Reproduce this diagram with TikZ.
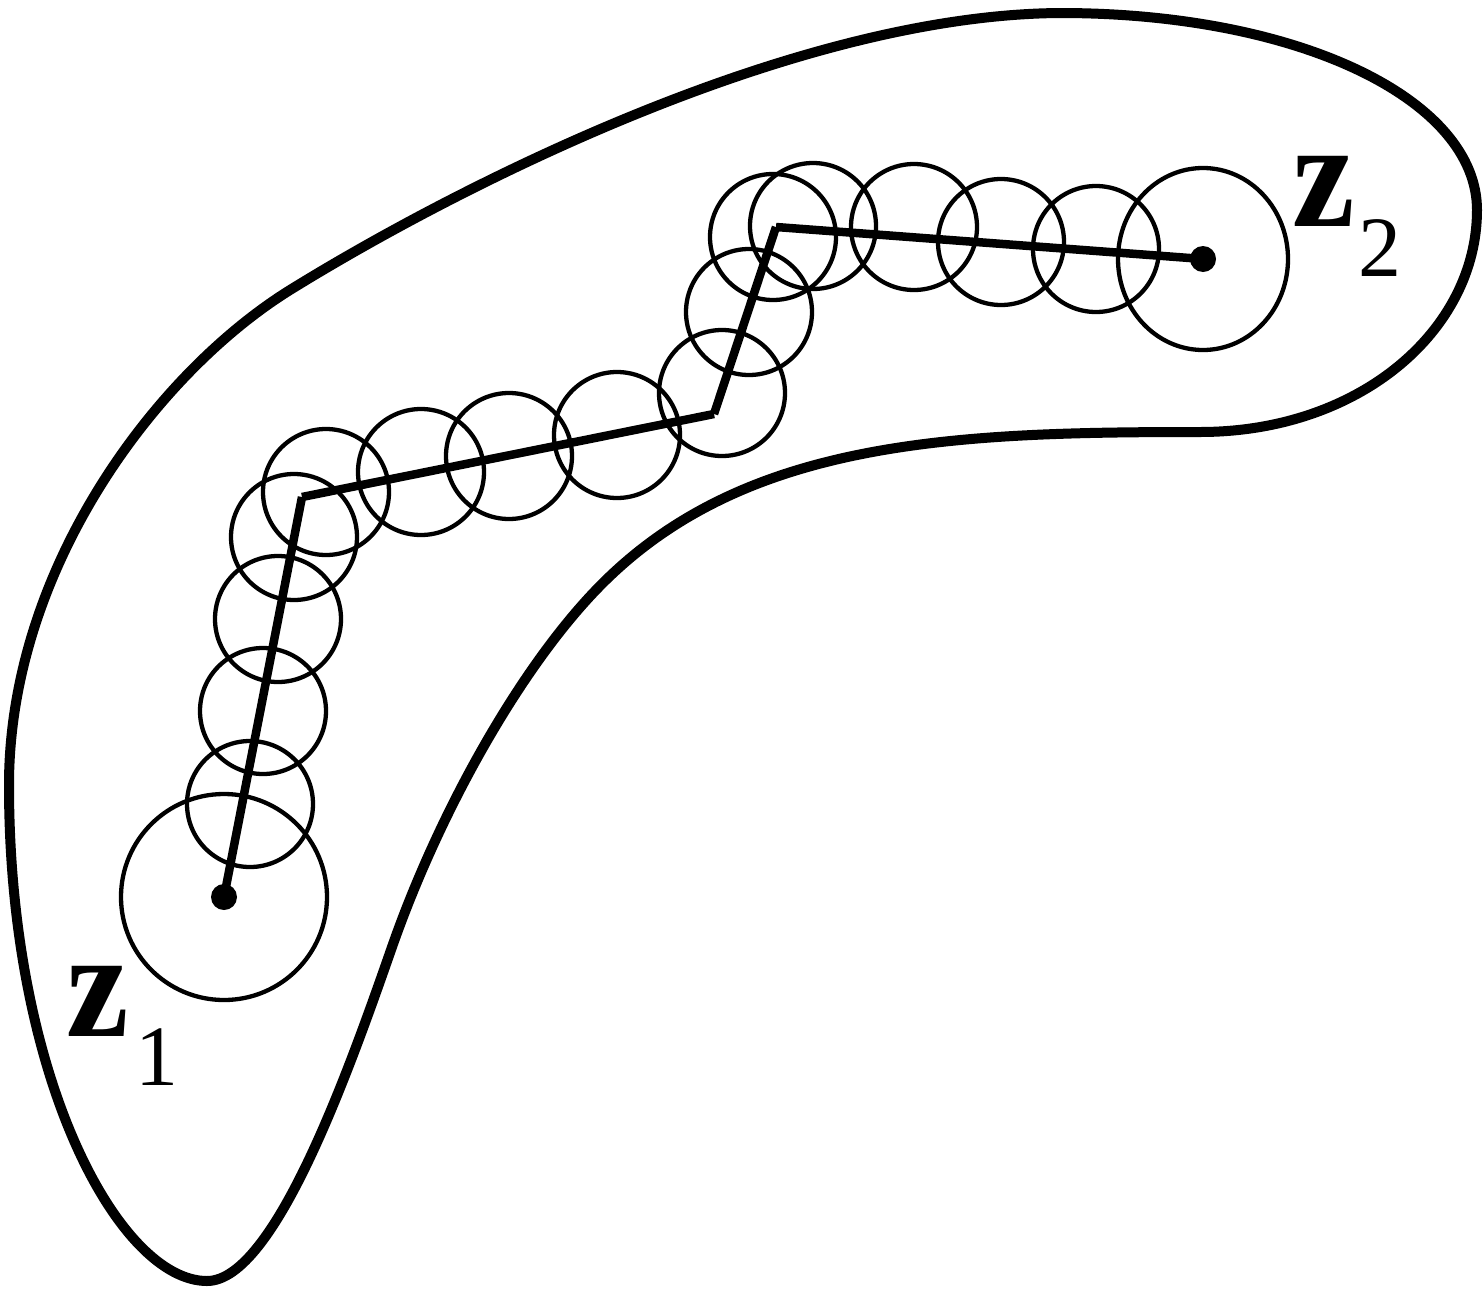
\documentclass[tikz,border=0pt]{standalone}
\usepackage{fontspec}
\setmainfont{Liberation Serif}
\usepackage{graphicx}
\begin{document}
\begin{tikzpicture}[x=1pt,y=-1pt,
  outline/.style={line width=10pt, line join=round},
  route/.style={line width=8.5pt, line cap=butt},
  ring/.style={line width=4.3pt},
  dotmark/.style={fill=black},
  zlab/.style={inner sep=0pt, anchor=south, font=\fontsize{153}{160}\selectfont\bfseries},
  sublab/.style={inner sep=0pt, anchor=south, font=\fontsize{86}{90}\selectfont}]
\useasboundingbox (0,0) rectangle (1484,1304);

% region outline
\coordinate (tip) at (207,1281);
\coordinate (lft) at (9,785);
\coordinate (ul) at (290,290);
\coordinate (top) at (1060,13);
\coordinate (rgt) at (1477,210);
\coordinate (nr) at (1200,432);
\coordinate (n1) at (596,590);
\coordinate (n2) at (392,947);
\draw[outline] (tip)
  .. controls (120,1281) and (9,1080) .. (lft)
  .. controls (9,570) and (155,374) .. (ul)
  .. controls (450,191) and (790,15) .. (top)
  .. controls (1300,13) and (1477,100) .. (rgt)
  .. controls (1477,330) and (1360,432) .. (nr)
  .. controls (950,432) and (740,440) .. (n1)
  .. controls (520,669) and (440,810) .. (n2)
  .. controls (350,1067) and (275,1281) .. (tip) -- cycle;

% path vertices
\coordinate (z1) at (224,897);
\coordinate (a) at (302,497);
\coordinate (b) at (714,414);
\coordinate (c) at (776,227);
\coordinate (z2) at (1203,259);

% circles
\draw[ring] (z1) circle[radius=103pt];
\foreach \p in {(250,804),(263,711),(278,619),(294,537),(326,492),(421,472),
                (509,456),(617,435),(722,393),(749,312),(773,237),(813,226),
                (914,227),(1001,242),(1096,249)}
  \draw[ring] \p circle[radius=63pt];
\draw[ring] (z2) ellipse[x radius=85pt, y radius=91pt];

% polyline
\draw[route] (z1) -- (a);
\draw[route] (a) -- (b);
\draw[route] (b) -- (c);
\draw[route] (c) -- (z2);
\fill[dotmark] (z1) circle[radius=13pt];
\fill[dotmark] (z2) circle[radius=13pt];

% labels
\node[zlab] (z1z) at (97.5,1037) {\scalebox{0.92}[1]{z}};
\node[sublab] (z1s) at (157,1086) {1};
\node[zlab] (z2z) at (1323.5,227) {\scalebox{0.92}[1]{z}};
\node[sublab] (z2s) at (1380,277) {2};
\end{tikzpicture}
\end{document}
